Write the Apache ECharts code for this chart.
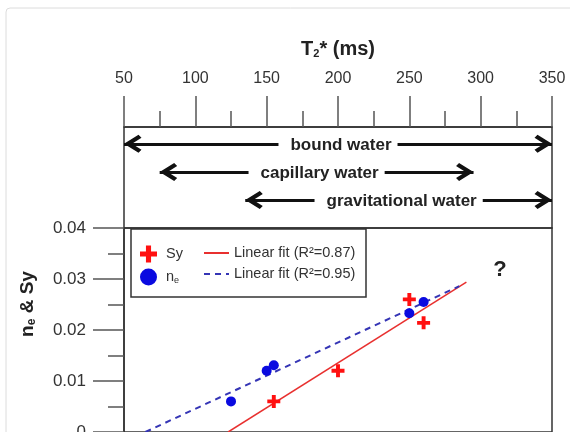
<!DOCTYPE html>
<html><head><meta charset="utf-8">
<script src="https://cdn.jsdelivr.net/npm/echarts@6/dist/echarts.min.js"></script>
<style>html,body{margin:0;padding:0;background:#fff}#c{width:570px;height:432px}</style>
</head><body><div id="c"></div>
<script>
const FONT = "'Liberation Sans', Arial, sans-serif";

// T2* (ms) and values for Sy (red crosses)
const syT2 = [155, 200, 250, 260];
const syValues = [0.006, 0.012, 0.026, 0.0214];
// T2* (ms) and values for ne (blue circles)
const neT2 = [125, 150, 155, 250, 260];
const neValues = [0.006, 0.012, 0.0131, 0.0233, 0.0255];
// linear fit lines (endpoints)
const syFitT2 = [123, 290];
const syFitValues = [0, 0.0294];
const neFitT2 = [65, 285];
const neFitValues = [0, 0.0286];
// water zones on T2* scale
const zoneNames = ['bound water', 'capillary water', 'gravitational water'];
const zoneStart = [50, 75, 135];
const zoneEnd = [350, 295, 350];
const zoneRow = [3, 2, 1];
// series names
const nameSy = 'Sy';
const nameNe = 'ne';
const nameFitSy = 'Linear fit (R²=0.87)';
const nameFitNe = 'Linear fit (R²=0.95)';

const CROSS = 'path://M3.5,0H6.5V3.5H10V6.5H6.5V10H3.5V6.5H0V3.5H3.5Z';
const CHEV = 'path://M9,-17.5M9,0L18,14.5L15,17.5L9,8L3,17.5L0,14.5Z';

const zip = (a, b) => a.map((v, i) => [v, b[i]]);

const legendCommon = {
  top: 245.5, orient: 'vertical', padding: 0, itemGap: 6,
  itemWidth: 25, itemHeight: 17, z: 6,
  textStyle: { fontSize: 14.5, color: '#333',
    rich: {
      n: { fontSize: 14.5, color: '#333' },
      s: { fontSize: 9, color: '#333', padding: [7, 0, 0, 0] }
    } }
};

const chart = echarts.init(document.getElementById('c'));
chart.setOption({
  animation: false,
  textStyle: { fontFamily: FONT },
  graphic: [
    { type: 'rect', z: -10, shape: { x: 6, y: 8, width: 600, height: 460, r: 4 },
      style: { fill: 'none', stroke: '#dcdcdc', lineWidth: 1 } },
    { type: 'rect', z: 5, shape: { x: 131, y: 229, width: 235, height: 68 },
      style: { fill: '#fff', stroke: '#333', lineWidth: 1.5 } },
    { type: 'text', x: 500, y: 270, z: 10,
      style: { text: '?', font: 'bold 22px ' + FONT, fill: '#222', align: 'center', verticalAlign: 'middle' } }
  ],
  grid: [
    { left: 124, top: 127, width: 428, height: 101, show: true, borderColor: '#333', borderWidth: 1.5,
      backgroundColor: 'transparent', containLabel: false, outerBoundsMode: 'none' },
    { left: 124, top: 228, width: 428, height: 204, show: true, borderColor: '#333', borderWidth: 1.5,
      backgroundColor: 'transparent', containLabel: false, outerBoundsMode: 'none' }
  ],
  xAxis: [
    { gridIndex: 0, type: 'value', position: 'top', min: 50, max: 350, interval: 50,
      name: 'T{s|2}* (ms)', nameLocation: 'middle', nameGap: 68,
      nameTextStyle: { fontSize: 20, fontWeight: 'bold', color: '#222',
        rich: { s: { fontSize: 11, fontWeight: 'bold', color: '#222', padding: [9, 0, 0, 0] } } },
      axisLine: { show: true, onZero: false, lineStyle: { color: '#333', width: 1.5 } },
      axisTick: { show: true, inside: false, length: 31, lineStyle: { color: '#555', width: 1.5 } },
      minorTick: { show: true, splitNumber: 2, length: 16, lineStyle: { color: '#555', width: 1.5 } },
      axisLabel: { fontSize: 16, color: '#333', margin: 40 },
      splitLine: { show: false } },
    { gridIndex: 1, type: 'value', min: 50, max: 350, interval: 50, show: false }
  ],
  yAxis: [
    { gridIndex: 0, type: 'value', min: 0, max: 3.6, show: false },
    { gridIndex: 1, type: 'value', min: 0, max: 0.04, interval: 0.01,
      name: 'n{s|e} & Sy', nameLocation: 'middle', nameGap: 86, nameRotate: 90,
      nameTextStyle: { fontSize: 19, fontWeight: 'bold', color: '#222', padding: [0, 0, 0, 52],
        rich: { s: { fontSize: 12, fontWeight: 'bold', color: '#222', padding: [8, 0, 0, 0] } } },
      axisLine: { show: true, onZero: false, lineStyle: { color: '#333', width: 1.5 } },
      axisTick: { show: true, length: 31, lineStyle: { color: '#555', width: 1.5 } },
      minorTick: { show: true, splitNumber: 2, length: 16, lineStyle: { color: '#555', width: 1.5 } },
      axisLabel: { fontSize: 17, color: '#333', margin: 38,
        formatter: v => v === 0 ? '0' : v.toFixed(2) },
      splitLine: { show: false } }
  ],
  legend: [
    Object.assign({}, legendCommon, {
      left: 140,
      data: [ { name: nameSy, icon: CROSS }, { name: nameNe, icon: 'circle' } ],
      formatter: n => n === nameNe ? '{n|n}{s|e}' : n
    }),
    Object.assign({}, legendCommon, {
      left: 203,
      data: [ { name: nameFitSy, itemStyle: { opacity: 0 } }, { name: nameFitNe, itemStyle: { opacity: 0 } } ]
    })
  ],
  series: [
    { type: 'lines', coordinateSystem: 'cartesian2d', xAxisIndex: 0, yAxisIndex: 0,
      symbol: [CHEV, CHEV], symbolSize: [[18, 35], [18, 35]],
      lineStyle: { color: '#111', width: 3, opacity: 1 },
      label: { show: true, position: 'middle', formatter: '{b}', color: '#222',
        fontSize: 17, fontWeight: 'bold', backgroundColor: '#fff', padding: [0, 6, 0, 12], distance: [0, -10] },
      data: zoneNames.map((n, i) => ({ name: n, coords: [[zoneStart[i], zoneRow[i]], [zoneEnd[i], zoneRow[i]]] })) },
    { name: nameFitSy, type: 'line', xAxisIndex: 1, yAxisIndex: 1, symbol: 'none',
      lineStyle: { color: '#e8302f', width: 1.5 }, itemStyle: { color: '#e8302f' },
      data: zip(syFitT2, syFitValues), z: 3 },
    { name: nameFitNe, type: 'line', xAxisIndex: 1, yAxisIndex: 1, symbol: 'none',
      lineStyle: { color: '#3535b5', width: 2, type: [6, 5] }, itemStyle: { color: '#3535b5' },
      data: zip(neFitT2, neFitValues), z: 3 },
    { name: nameSy, type: 'scatter', xAxisIndex: 1, yAxisIndex: 1, symbol: CROSS, symbolSize: 13,
      itemStyle: { color: '#ff1010', opacity: 1 }, data: zip(syT2, syValues), z: 5 },
    { name: nameNe, type: 'scatter', xAxisIndex: 1, yAxisIndex: 1, symbol: 'circle', symbolSize: 10,
      itemStyle: { color: '#0a0ae0', opacity: 1 }, data: zip(neT2, neValues), z: 5 }
  ]
});
</script>
</body></html>
